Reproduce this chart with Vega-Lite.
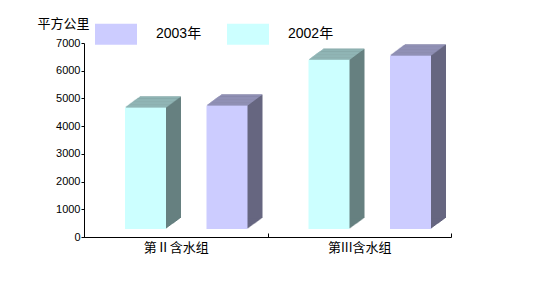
{
  "$schema": "https://vega.github.io/schema/vega-lite/v6.json",
  "autosize": {"type": "none"},
  "width": 367,
  "height": 194,
  "padding": {"left": 84, "top": 43, "right": 102, "bottom": 62},
  "background": "white",
  "config": {"view": {"stroke": null}},
  "data": {"values": [
    {"group": "第Ⅱ含水组", "year": "2002年", "value": 4676},
    {"group": "第Ⅱ含水组", "year": "2003年", "value": 4748},
    {"group": "第III含水组", "year": "2002年", "value": 6398},
    {"group": "第III含水组", "year": "2003年", "value": 6553}
  ]},
  "encoding": {
    "x": {"field": "group", "type": "nominal", "sort": ["第Ⅱ含水组", "第III含水组"],
      "scale": {"paddingInner": 0, "paddingOuter": 0},
      "axis": {"title": null, "labelAngle": 0, "tickBand": "extent", "tickSize": -4, "tickColor": "black", "domainColor": "black", "labelColor": "black", "labelFont": "Noto Sans CJK SC", "labelFontSize": 13, "labelPadding": 8, "labelBaseline": "top"}},
    "y": {"field": "value", "type": "quantitative", "scale": {"domain": [0, 7000], "nice": false},
      "axis": {"values": [0, 1000, 2000, 3000, 4000, 5000, 6000, 7000], "format": "d", "grid": false, "tickSize": 3, "tickColor": "black", "domainColor": "black", "labelColor": "black", "labelFont": "Liberation Sans", "labelFontSize": 11, "labelPadding": 1,
        "title": "平方公里", "titleAngle": 0, "titleAlign": "left", "titleBaseline": "middle", "titleX": -47, "titleY": -20, "titleFont": "Noto Sans CJK SC", "titleFontSize": 13, "titleFontWeight": "normal", "titleColor": "black"}}
  },
  "layer": [
    {"transform": [{"filter": "datum.year === '2002年'"}],
     "layer": [
      {"mark": {"type": "bar", "width": 41, "color": "#668080", "xOffset": -29.25, "yOffset": -0.733, "y2Offset": -8.733}, "encoding": {"y2": {"datum": 0}}},
      {"mark": {"type": "bar", "width": 41, "color": "#668080", "xOffset": -28.25, "yOffset": -1.467, "y2Offset": -9.467}, "encoding": {"y2": {"datum": 0}}},
      {"mark": {"type": "bar", "width": 41, "color": "#668080", "xOffset": -27.25, "yOffset": -2.2, "y2Offset": -10.2}, "encoding": {"y2": {"datum": 0}}},
      {"mark": {"type": "bar", "width": 41, "color": "#668080", "xOffset": -26.25, "yOffset": -2.933, "y2Offset": -10.933}, "encoding": {"y2": {"datum": 0}}},
      {"mark": {"type": "bar", "width": 41, "color": "#668080", "xOffset": -25.25, "yOffset": -3.667, "y2Offset": -11.667}, "encoding": {"y2": {"datum": 0}}},
      {"mark": {"type": "bar", "width": 41, "color": "#668080", "xOffset": -24.25, "yOffset": -4.4, "y2Offset": -12.4}, "encoding": {"y2": {"datum": 0}}},
      {"mark": {"type": "bar", "width": 41, "color": "#668080", "xOffset": -23.25, "yOffset": -5.133, "y2Offset": -13.133}, "encoding": {"y2": {"datum": 0}}},
      {"mark": {"type": "bar", "width": 41, "color": "#668080", "xOffset": -22.25, "yOffset": -5.867, "y2Offset": -13.867}, "encoding": {"y2": {"datum": 0}}},
      {"mark": {"type": "bar", "width": 41, "color": "#668080", "xOffset": -21.25, "yOffset": -6.6, "y2Offset": -14.6}, "encoding": {"y2": {"datum": 0}}},
      {"mark": {"type": "bar", "width": 41, "color": "#668080", "xOffset": -20.25, "yOffset": -7.333, "y2Offset": -15.333}, "encoding": {"y2": {"datum": 0}}},
      {"mark": {"type": "bar", "width": 41, "color": "#668080", "xOffset": -19.25, "yOffset": -8.067, "y2Offset": -16.067}, "encoding": {"y2": {"datum": 0}}},
      {"mark": {"type": "bar", "width": 41, "color": "#668080", "xOffset": -18.25, "yOffset": -8.8, "y2Offset": -16.8}, "encoding": {"y2": {"datum": 0}}},
      {"mark": {"type": "bar", "width": 41, "color": "#668080", "xOffset": -17.25, "yOffset": -9.533, "y2Offset": -17.533}, "encoding": {"y2": {"datum": 0}}},
      {"mark": {"type": "bar", "width": 41, "color": "#668080", "xOffset": -16.25, "yOffset": -10.267, "y2Offset": -18.267}, "encoding": {"y2": {"datum": 0}}},
      {"mark": {"type": "bar", "width": 41, "color": "#668080", "xOffset": -15.25, "yOffset": -11, "y2Offset": -19}, "encoding": {"y2": {"datum": 0}}},
      {"mark": {"type": "tick", "size": 41, "thickness": 1.2, "color": "#99BFBF", "xOffset": -29.75, "yOffset": -0.367}},
      {"mark": {"type": "tick", "size": 41, "thickness": 1.2, "color": "#99BFBF", "xOffset": -28.75, "yOffset": -1.1}},
      {"mark": {"type": "tick", "size": 41, "thickness": 1.2, "color": "#99BFBF", "xOffset": -27.75, "yOffset": -1.833}},
      {"mark": {"type": "tick", "size": 41, "thickness": 1.2, "color": "#99BFBF", "xOffset": -26.75, "yOffset": -2.567}},
      {"mark": {"type": "tick", "size": 41, "thickness": 1.2, "color": "#99BFBF", "xOffset": -25.75, "yOffset": -3.3}},
      {"mark": {"type": "tick", "size": 41, "thickness": 1.2, "color": "#99BFBF", "xOffset": -24.75, "yOffset": -4.033}},
      {"mark": {"type": "tick", "size": 41, "thickness": 1.2, "color": "#99BFBF", "xOffset": -23.75, "yOffset": -4.767}},
      {"mark": {"type": "tick", "size": 41, "thickness": 1.2, "color": "#99BFBF", "xOffset": -22.75, "yOffset": -5.5}},
      {"mark": {"type": "tick", "size": 41, "thickness": 1.2, "color": "#99BFBF", "xOffset": -21.75, "yOffset": -6.233}},
      {"mark": {"type": "tick", "size": 41, "thickness": 1.2, "color": "#99BFBF", "xOffset": -20.75, "yOffset": -6.967}},
      {"mark": {"type": "tick", "size": 41, "thickness": 1.2, "color": "#99BFBF", "xOffset": -19.75, "yOffset": -7.7}},
      {"mark": {"type": "tick", "size": 41, "thickness": 1.2, "color": "#99BFBF", "xOffset": -18.75, "yOffset": -8.433}},
      {"mark": {"type": "tick", "size": 41, "thickness": 1.2, "color": "#99BFBF", "xOffset": -17.75, "yOffset": -9.167}},
      {"mark": {"type": "tick", "size": 41, "thickness": 1.2, "color": "#99BFBF", "xOffset": -16.75, "yOffset": -9.9}},
      {"mark": {"type": "tick", "size": 41, "thickness": 1.2, "color": "#99BFBF", "xOffset": -15.75, "yOffset": -10.633}},
      {"mark": {"type": "bar", "width": 41, "xOffset": -30.25, "y2Offset": -8}, "encoding": {"y2": {"datum": 0},
        "color": {"field": "year", "type": "nominal", "scale": {"domain": ["2003年", "2002年"], "range": ["#CCCCFF", "#CCFFFF"]},
          "legend": {"title": null, "orient": "none", "direction": "horizontal", "legendX": 11, "legendY": -30, "padding": 0,
            "symbolType": "M-1,-0.5H1V0.5H-1Z", "symbolSize": 1764, "symbolStrokeWidth": 0, "symbolOpacity": 1,
            "labelFont": "Liberation Sans, Noto Sans CJK SC", "labelFontSize": 14, "labelColor": "black", "labelOffset": 19, "columnPadding": 25}}}}
     ]},
    {"transform": [{"filter": "datum.year === '2003年'"}],
     "layer": [
      {"mark": {"type": "bar", "width": 41, "color": "#666680", "xOffset": 52.25, "yOffset": -0.733, "y2Offset": -8.733}, "encoding": {"y2": {"datum": 0}}},
      {"mark": {"type": "bar", "width": 41, "color": "#666680", "xOffset": 53.25, "yOffset": -1.467, "y2Offset": -9.467}, "encoding": {"y2": {"datum": 0}}},
      {"mark": {"type": "bar", "width": 41, "color": "#666680", "xOffset": 54.25, "yOffset": -2.2, "y2Offset": -10.2}, "encoding": {"y2": {"datum": 0}}},
      {"mark": {"type": "bar", "width": 41, "color": "#666680", "xOffset": 55.25, "yOffset": -2.933, "y2Offset": -10.933}, "encoding": {"y2": {"datum": 0}}},
      {"mark": {"type": "bar", "width": 41, "color": "#666680", "xOffset": 56.25, "yOffset": -3.667, "y2Offset": -11.667}, "encoding": {"y2": {"datum": 0}}},
      {"mark": {"type": "bar", "width": 41, "color": "#666680", "xOffset": 57.25, "yOffset": -4.4, "y2Offset": -12.4}, "encoding": {"y2": {"datum": 0}}},
      {"mark": {"type": "bar", "width": 41, "color": "#666680", "xOffset": 58.25, "yOffset": -5.133, "y2Offset": -13.133}, "encoding": {"y2": {"datum": 0}}},
      {"mark": {"type": "bar", "width": 41, "color": "#666680", "xOffset": 59.25, "yOffset": -5.867, "y2Offset": -13.867}, "encoding": {"y2": {"datum": 0}}},
      {"mark": {"type": "bar", "width": 41, "color": "#666680", "xOffset": 60.25, "yOffset": -6.6, "y2Offset": -14.6}, "encoding": {"y2": {"datum": 0}}},
      {"mark": {"type": "bar", "width": 41, "color": "#666680", "xOffset": 61.25, "yOffset": -7.333, "y2Offset": -15.333}, "encoding": {"y2": {"datum": 0}}},
      {"mark": {"type": "bar", "width": 41, "color": "#666680", "xOffset": 62.25, "yOffset": -8.067, "y2Offset": -16.067}, "encoding": {"y2": {"datum": 0}}},
      {"mark": {"type": "bar", "width": 41, "color": "#666680", "xOffset": 63.25, "yOffset": -8.8, "y2Offset": -16.8}, "encoding": {"y2": {"datum": 0}}},
      {"mark": {"type": "bar", "width": 41, "color": "#666680", "xOffset": 64.25, "yOffset": -9.533, "y2Offset": -17.533}, "encoding": {"y2": {"datum": 0}}},
      {"mark": {"type": "bar", "width": 41, "color": "#666680", "xOffset": 65.25, "yOffset": -10.267, "y2Offset": -18.267}, "encoding": {"y2": {"datum": 0}}},
      {"mark": {"type": "bar", "width": 41, "color": "#666680", "xOffset": 66.25, "yOffset": -11, "y2Offset": -19}, "encoding": {"y2": {"datum": 0}}},
      {"mark": {"type": "tick", "size": 41, "thickness": 1.2, "color": "#9999BF", "xOffset": 51.75, "yOffset": -0.367}},
      {"mark": {"type": "tick", "size": 41, "thickness": 1.2, "color": "#9999BF", "xOffset": 52.75, "yOffset": -1.1}},
      {"mark": {"type": "tick", "size": 41, "thickness": 1.2, "color": "#9999BF", "xOffset": 53.75, "yOffset": -1.833}},
      {"mark": {"type": "tick", "size": 41, "thickness": 1.2, "color": "#9999BF", "xOffset": 54.75, "yOffset": -2.567}},
      {"mark": {"type": "tick", "size": 41, "thickness": 1.2, "color": "#9999BF", "xOffset": 55.75, "yOffset": -3.3}},
      {"mark": {"type": "tick", "size": 41, "thickness": 1.2, "color": "#9999BF", "xOffset": 56.75, "yOffset": -4.033}},
      {"mark": {"type": "tick", "size": 41, "thickness": 1.2, "color": "#9999BF", "xOffset": 57.75, "yOffset": -4.767}},
      {"mark": {"type": "tick", "size": 41, "thickness": 1.2, "color": "#9999BF", "xOffset": 58.75, "yOffset": -5.5}},
      {"mark": {"type": "tick", "size": 41, "thickness": 1.2, "color": "#9999BF", "xOffset": 59.75, "yOffset": -6.233}},
      {"mark": {"type": "tick", "size": 41, "thickness": 1.2, "color": "#9999BF", "xOffset": 60.75, "yOffset": -6.967}},
      {"mark": {"type": "tick", "size": 41, "thickness": 1.2, "color": "#9999BF", "xOffset": 61.75, "yOffset": -7.7}},
      {"mark": {"type": "tick", "size": 41, "thickness": 1.2, "color": "#9999BF", "xOffset": 62.75, "yOffset": -8.433}},
      {"mark": {"type": "tick", "size": 41, "thickness": 1.2, "color": "#9999BF", "xOffset": 63.75, "yOffset": -9.167}},
      {"mark": {"type": "tick", "size": 41, "thickness": 1.2, "color": "#9999BF", "xOffset": 64.75, "yOffset": -9.9}},
      {"mark": {"type": "tick", "size": 41, "thickness": 1.2, "color": "#9999BF", "xOffset": 65.75, "yOffset": -10.633}},
      {"mark": {"type": "bar", "width": 41, "xOffset": 51.25, "y2Offset": -8}, "encoding": {"y2": {"datum": 0},
        "color": {"field": "year", "type": "nominal", "scale": {"domain": ["2003年", "2002年"], "range": ["#CCCCFF", "#CCFFFF"]},
          "legend": {"title": null, "orient": "none", "direction": "horizontal", "legendX": 11, "legendY": -30, "padding": 0,
            "symbolType": "M-1,-0.5H1V0.5H-1Z", "symbolSize": 1764, "symbolStrokeWidth": 0, "symbolOpacity": 1,
            "labelFont": "Liberation Sans, Noto Sans CJK SC", "labelFontSize": 14, "labelColor": "black", "labelOffset": 19, "columnPadding": 25}}}}
     ]}
  ]
}
